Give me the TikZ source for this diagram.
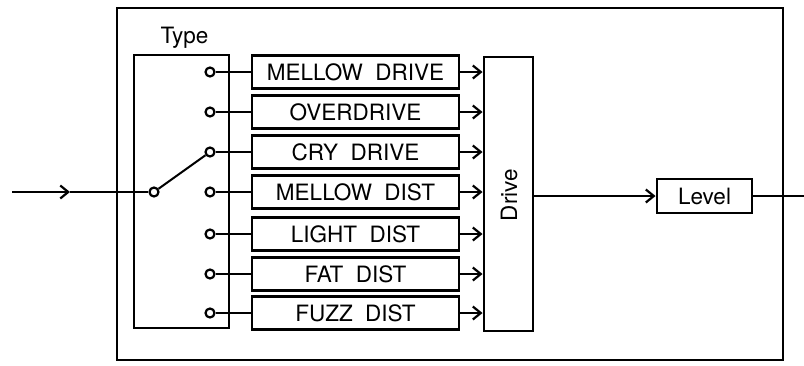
\documentclass[tikz,border=0pt]{standalone}
\usepackage{fontspec}
\setmainfont{TeX Gyre Heros}
\usetikzlibrary{arrows.meta}
\newcommand{\wgap}{\hspace{0.55em}}
\newcommand{\lblfont}{\fontsize{22.5}{24}\selectfont}

\begin{document}
\begin{tikzpicture}[x=1pt,y=-1pt,
    box/.style={draw,line width=2.9pt,inner sep=0pt,font=\lblfont},
    wire/.style={line width=2pt},
    tip/.style={-{Straight Barb[length=8pt,width=13pt,line width=2.2pt]}},
    jack/.style={circle,draw,line width=2.2pt,fill=white,inner sep=0pt,minimum size=9pt}]
    \useasboundingbox (0,0) rectangle (804,365);
    \node[box,line width=2.6pt,minimum width=666pt,minimum height=352pt] (frame) at (450,184) {};
    \node[box,minimum width=95pt,minimum height=273pt] (type) at (181.5,191.5) {};
    \node[font=\lblfont] (typelbl) at (184.5,38) {Type};
    \node[box,minimum width=49pt,minimum height=274pt] (drive) at (508.5,194) {};
    \node[font=\lblfont,rotate=90] (drivelbl) at (509,195) {Drive};
    \node[box,minimum width=95pt,minimum height=34pt] (level) at (704.5,196) {Level};
    \foreach \name/\txt/\yy in {mdrive/MELLOW\wgap DRIVE/72,odrive/OVERDRIVE/112,
        cdrive/CRY\wgap DRIVE/152,mdist/MELLOW\wgap DIST/192,ldist/LIGHT\wgap DIST/234,
        fdist/FAT\wgap DIST/274,zdist/FUZZ\wgap DIST/313}{
      \node[box,minimum width=207pt,minimum height=33pt] (\name) at (355.5,\yy) {\txt};
      \node[jack] (j\name) at (210,\yy) {};
      \draw[wire] (j\name) -- (\name);
      \draw[wire,tip] (\name) -- (\name -| drive.west);
    }
    \node[jack] (pivot) at (154,192) {};
    \coordinate (in) at (12,192);
    \coordinate (inarr) at (70,192);
    \coordinate (out) at (804,196);
    \draw[wire,tip] (in) -- (inarr);
    \draw[wire] (inarr) -- (pivot);
    \draw[wire] (pivot) -- (jcdrive);
    \draw[wire,tip] (level.west -| drive.east) -- (level);
    \draw[wire] (level) -- (out);
  \end{tikzpicture}
\end{document}
